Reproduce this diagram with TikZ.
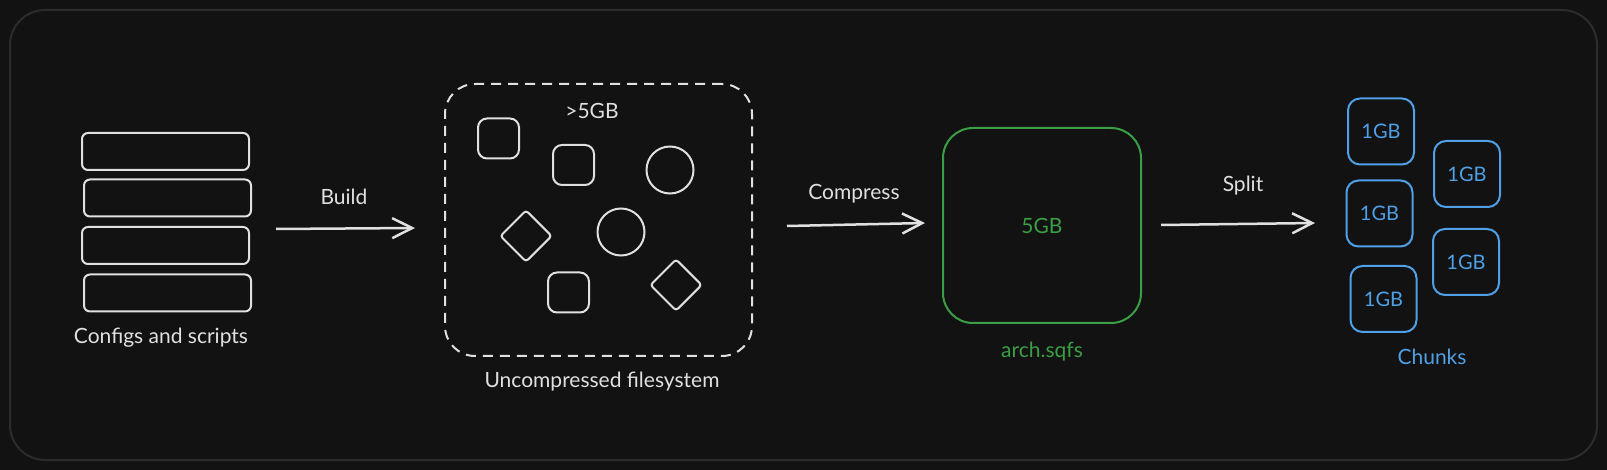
\documentclass[tikz,border=0pt]{standalone}
\usepackage{fontspec}
\setmainfont{Lato}
\usetikzlibrary{arrows.meta,shapes.geometric}
\definecolor{bg}{HTML}{121212}
\definecolor{framec}{HTML}{2C2C2C}
\definecolor{ink}{HTML}{E0E0E0}
\definecolor{grn}{HTML}{3A9E45}
\definecolor{blu}{HTML}{4FA0E6}
\begin{document}
\begin{tikzpicture}[x=1pt,y=-1pt,
  sk/.style={draw=ink,line width=2pt,rounded corners=6pt},
  bar/.style={sk,minimum width=167pt,minimum height=37pt,inner sep=0pt},
  sq/.style={sk,rounded corners=9pt,minimum width=41pt,minimum height=40pt,inner sep=0pt},
  circ/.style={draw=ink,line width=2pt,circle,minimum size=47pt,inner sep=0pt},
  dia/.style={draw=ink,line width=2pt,rounded corners=3pt,diamond,minimum width=52pt,minimum height=52pt,inner sep=0pt},
  chunk/.style={draw=blu,line width=2pt,rounded corners=12pt,minimum width=66pt,minimum height=66pt,inner sep=0pt,text=blu,font=\fontsize{20}{24}\selectfont},
  lbl/.style={text=ink,font=\fontsize{21}{25}\selectfont,inner sep=0pt},
  arr/.style={draw=ink,line width=2.5pt,-{Straight Barb[length=20pt,width=20pt]}}
]
\useasboundingbox (0,0) rectangle (1607,470);
\fill[bg] (0,0) rectangle (1607,470);
\draw[framec,line width=2pt,rounded corners=35pt] (10,10) rectangle (1597,460);

% configs
\node[bar] (bar1) at (165.5,151.5) {};
\node[bar] (bar2) at (167.5,198) {};
\node[bar] (bar3) at (165.5,245.5) {};
\node[bar] (bar4) at (167.5,293) {};
\node[lbl] (cfglbl) at (161,338) {Configs and scripts};

% uncompressed filesystem
\node[sk,dash pattern=on 10pt off 7pt,rounded corners=30pt,minimum width=307pt,minimum height=272pt,inner sep=0pt] (fs) at (598.5,220) {};
\node[lbl] (fssize) at (592,111) {>5GB};
\node[sq] (sq1) at (498.5,138.5) {};
\node[sq] (sq2) at (573.5,165) {};
\node[sq] (sq3) at (568.5,292.5) {};
\node[circ] (ci1) at (670,170) {};
\node[circ] (ci2) at (621,232) {};
\node[dia] (di1) at (526,236) {};
\node[dia] (di2) at (676,285) {};
\node[lbl] (fslbl) at (602,382) {Uncompressed filesystem};

% compressed
\node[draw=grn,line width=2pt,rounded corners=30pt,minimum width=198pt,minimum height=195pt,inner sep=0pt,text=grn,font=\fontsize{21}{25}\selectfont] (sq) at (1042,225.5) {5GB};
\node[lbl,text=grn] (sqlbl) at (1042,352) {arch.sqfs};

% chunks
\node[chunk] (c1) at (1381,131.5) {1GB};
\node[chunk] (c2) at (1467,174) {1GB};
\node[chunk] (c3) at (1379.5,213.5) {1GB};
\node[chunk] (c4) at (1466,262) {1GB};
\node[chunk] (c5) at (1383.5,299) {1GB};
\node[lbl,text=blu] (chlbl) at (1432,357) {Chunks};

% arrows
\coordinate (b1) at (276,229);
\coordinate (b2) at (415,228);
\coordinate (p1) at (787,226);
\coordinate (p2) at (925,223);
\coordinate (s1) at (1161,225);
\coordinate (s2) at (1315,223);
\draw[arr] (b1) -- (b2);
\draw[arr] (p1) -- (p2);
\draw[arr] (s1) -- (s2);
\node[lbl] (buildlbl) at (344,197) {Build};
\node[lbl] (complbl) at (854,194) {Compress};
\node[lbl] (splitlbl) at (1243,186) {Split};
\end{tikzpicture}
\end{document}
